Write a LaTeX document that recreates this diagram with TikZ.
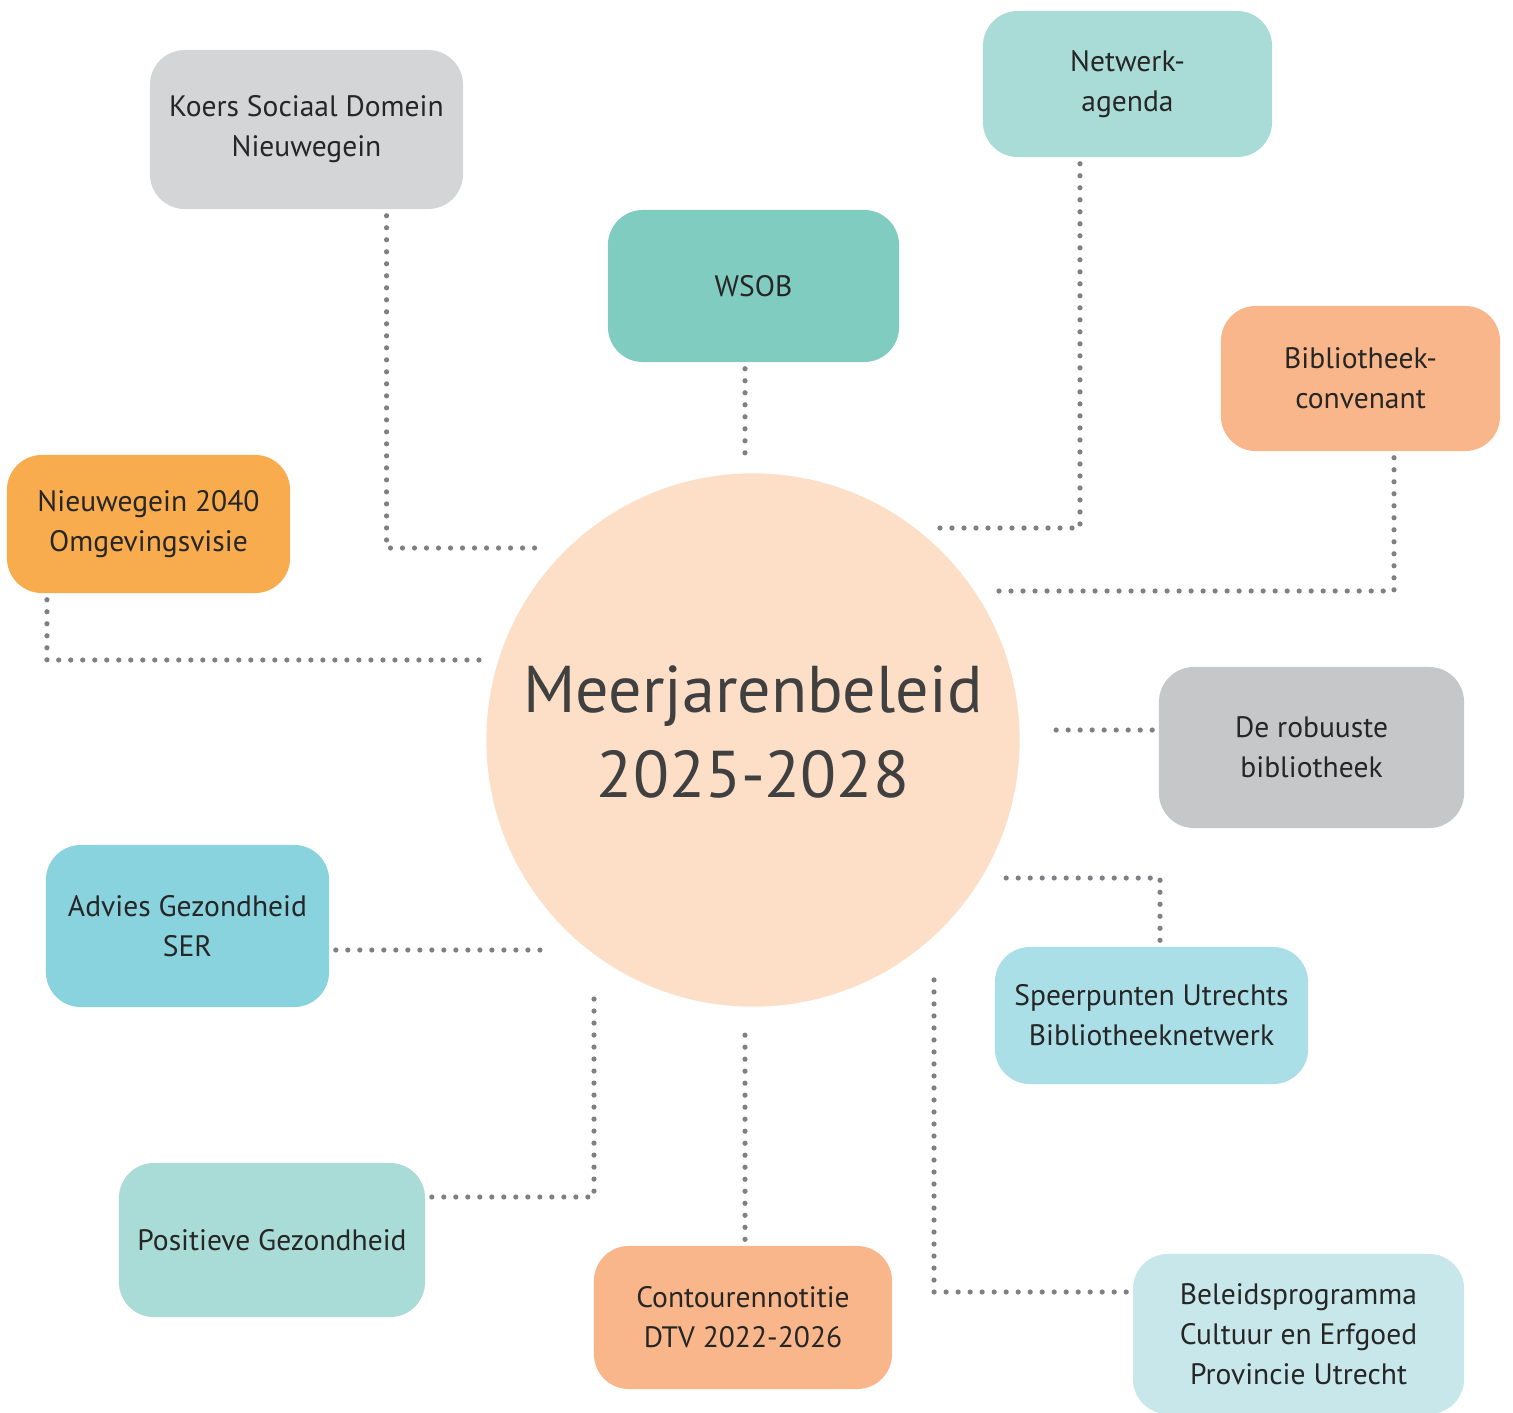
\documentclass[tikz,border=0pt]{standalone}
\usepackage{fontspec}
\setmainfont{PT Sans}
\usetikzlibrary{positioning}

\definecolor{koersgray}{HTML}{D4D5D7}
\definecolor{netwerkmint}{HTML}{A9DCD6}
\definecolor{wsobteal}{HTML}{80CCC0}
\definecolor{convpeach}{HTML}{F9B68A}
\definecolor{nwgorange}{HTML}{F8AC4E}
\definecolor{robgray}{HTML}{C6C7C9}
\definecolor{adviesblue}{HTML}{88D3DD}
\definecolor{speerblue}{HTML}{ABDFE8}
\definecolor{beleidblue}{HTML}{C7E7EA}
\definecolor{centerpeach}{HTML}{FDDFC8}
\definecolor{dotgray}{HTML}{7F7F84}
\definecolor{textdark}{HTML}{262626}

\begin{document}
\begin{tikzpicture}[x=0.01cm, y=-0.01cm]
	\tikzstyle{box} = [rounded corners=0.35cm, align=center, text=textdark,
		font=\fontsize{8.4}{11.4}\selectfont]
	\tikzstyle{link} = [draw=dotgray, line width=0.052cm, line cap=round,
		dash pattern=on 0pt off 0.12cm, shorten <=0.06cm]
	\useasboundingbox (0,0) rectangle (1513,1412);
	% centre
	\node [circle, fill=centerpeach, minimum size=5.33cm, align=center, text=textdark!88,
		text depth=0.17cm, font=\fontsize{18.8}{24.2}\selectfont] (mjb) at (753,740) {Meerjarenbeleid\\2025-2028};
	% boxes
	\node [box, fill=koersgray, minimum width=3.13cm, minimum height=1.59cm] (koers) at (306.5,129.5) {Koers Sociaal Domein\\Nieuwegein};
	\node [box, fill=netwerkmint, minimum width=2.89cm, minimum height=1.46cm] (netwerk) at (1127.5,84) {Netwerk-\\agenda};
	\node [box, fill=wsobteal, minimum width=2.91cm, minimum height=1.52cm] (wsob) at (753.5,286) {WSOB};
	\node [box, fill=convpeach, minimum width=2.79cm, minimum height=1.45cm] (conv) at (1360.5,378.5) {Bibliotheek-\\convenant};
	\node [box, fill=nwgorange, minimum width=2.83cm, minimum height=1.38cm] (nwg) at (148.5,524) {Nieuwegein 2040\\Omgevingsvisie};
	\node [box, fill=robgray, minimum width=3.05cm, minimum height=1.61cm] (robuust) at (1311.5,747.5) {De robuuste\\bibliotheek};
	\node [box, fill=adviesblue, minimum width=2.83cm, minimum height=1.62cm] (advies) at (187.5,926) {Advies Gezondheid\\SER};
	\node [box, fill=speerblue, minimum width=3.13cm, minimum height=1.37cm] (speer) at (1151.5,1015.5) {Speerpunten Utrechts\\Bibliotheeknetwerk};
	\node [box, fill=netwerkmint, minimum width=3.06cm, minimum height=1.54cm] (posgez) at (272,1240) {Positieve Gezondheid};
	\node [box, fill=convpeach, minimum width=2.98cm, minimum height=1.43cm] (contour) at (743,1317.5) {Contourennotitie\\DTV 2022-2026};
	\node [box, fill=beleidblue, minimum width=3.31cm, minimum height=1.60cm] (beleid) at (1298.5,1334) {Beleidsprogramma\\Cultuur en Erfgoed\\Provincie Utrecht};
	% loose ends near the centre
	\coordinate (koersEnd) at (540,548);
	\coordinate (wsobEnd) at (745,460);
	\coordinate (netwerkEnd) at (938,528);
	\coordinate (convEnd) at (996,591);
	\coordinate (nwgEnd) at (484,660);
	\coordinate (robuustEnd) at (1048,730);
	\coordinate (adviesEnd) at (547,950);
	\coordinate (speerEnd) at (998,878);
	\coordinate (posgezEnd) at (594,988);
	\coordinate (contourEnd) at (745,1025);
	\coordinate (beleidEnd) at (934,975);
	% dotted links
	\draw [link] ([xshift=0.8cm]koers.south) |- (koersEnd);
	\draw [link] (wsob.south -| wsobEnd) -- (wsobEnd);
	\draw [link] ([xshift=-0.475cm]netwerk.south) |- (netwerkEnd);
	\draw [link] ([xshift=0.335cm]conv.south) |- (convEnd);
	\draw [link] ([xshift=-1.015cm]nwg.south) |- (nwgEnd);
	\draw [link] (robuust.west |- robuustEnd) -- (robuustEnd);
	\draw [link] (advies.east |- adviesEnd) -- (adviesEnd);
	\draw [link] ([xshift=0.085cm]speer.north) |- (speerEnd);
	\draw [link] ([yshift=0.43cm]posgez.east) -| (posgezEnd);
	\draw [link] (contour.north -| contourEnd) -- (contourEnd);
	\draw [link] ([yshift=0.42cm]beleid.west) -| (beleidEnd);
\end{tikzpicture}
\end{document}
